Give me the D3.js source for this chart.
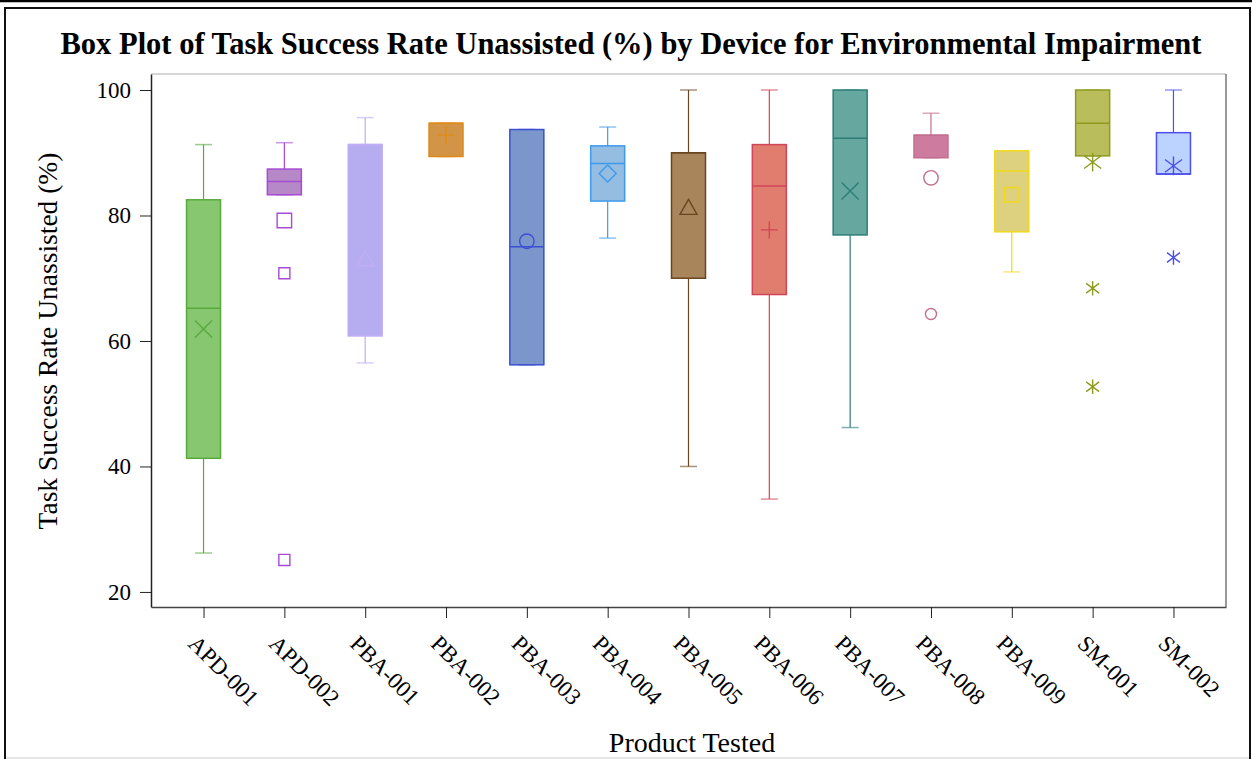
<!DOCTYPE html>
<html>
<head>
<meta charset="utf-8">
<script src="https://cdn.jsdelivr.net/npm/d3@7"></script>
<style>
  html, body { margin: 0; padding: 0; background: #fff; }
  svg text { font-family: "Liberation Serif", "Times New Roman", serif; fill: #000; }
</style>
</head>
<body>
<svg id="chart" width="1252" height="759"></svg>
<script>
const devices = ["APD-001", "APD-002", "PBA-001", "PBA-002", "PBA-003", "PBA-004", "PBA-005",
                 "PBA-006", "PBA-007", "PBA-008", "PBA-009", "SM-001", "SM-002"];
const whiskerLow  = [26.2, 83.3, 56.5, 89.4, 56.2, 76.4, 40.0, 34.8, 46.2, 89.2, 71.0, 89.5, 86.6];
const q1          = [41.3, 83.3, 60.8, 89.4, 56.2, 82.3, 70.0, 67.4, 76.9, 89.2, 77.4, 89.5, 86.6];
const medians     = [65.2, 85.4, 91.3, 94.7, 75.0, 88.3, 90.0, 84.7, 92.3, 92.8, 87.1, 94.7, 86.6];
const q3          = [82.5, 87.4, 91.3, 94.7, 93.7, 91.1, 90.0, 91.3, 100, 92.8, 90.3, 100, 93.2];
const whiskerHigh = [91.3, 91.6, 95.6, 94.7, 93.7, 94.1, 100, 100, 100, 96.3, 90.3, 100, 100];
const means       = [61.9, 79.2, 73.0, 92.8, 75.9, 86.7, 81.2, 77.7, 83.9, 86.0, 83.3, 88.5, 87.9];
const outliers    = [[], [70.8, 25.1], [], [], [], [], [], [], [], [64.3], [], [68.4, 52.7], [73.3]];
const yTicks = [20, 40, 60, 80, 100];

// fill / line colour and marker symbol per device
const fills   = ["#86c76f", "#b788c8", "#b6acf0", "#d29446", "#7b96cb", "#95bce1", "#a8855b",
                 "#e07d6f", "#66a7a0", "#ce7ba0", "#ddd07e", "#babd5b", "#bcd3ff"];
const lines   = ["#58aa3d", "#a64bd3", "#bfaef6", "#e08a18", "#3a4fd2", "#3d9aef", "#6a4620",
                 "#d24458", "#2c7f77", "#c2708f", "#f0d81a", "#8e9b1e", "#4d4fea"];
const symbols = ["x", "square", "triangle", "plus", "circle", "diamond", "triangle",
                 "plus", "x", "circle", "square", "asterisk", "asterisk"];

const svg = d3.select("#chart");
const plot = { left: 151, right: 1226, top: 74, bottom: 607 };

// outer frame
svg.append("line").attr("x1", 0).attr("x2", 1252).attr("y1", 1).attr("y2", 1)
  .attr("stroke", "#000").attr("stroke-width", 2.5);
svg.append("rect").attr("x", 5).attr("y", 8).attr("width", 1245).attr("height", 780)
  .attr("fill", "none").attr("stroke", "#111").attr("stroke-width", 2);
svg.append("line").attr("x1", 6).attr("x2", 1249).attr("y1", 758).attr("y2", 758)
  .attr("stroke", "#ddd").attr("stroke-width", 1.5);

const x = d3.scalePoint().domain(devices).range([plot.left, plot.right]).padding(0.65);
const y = d3.scaleLinear().domain([17.6, 102.55]).range([plot.bottom, plot.top]);

// plot border (top/right lighter)
svg.append("line").attr("x1", plot.left).attr("x2", plot.right).attr("y1", plot.top).attr("y2", plot.top)
  .attr("stroke", "#c8c8c8").attr("stroke-width", 1.5);
svg.append("line").attr("x1", plot.right).attr("x2", plot.right).attr("y1", plot.top).attr("y2", plot.bottom)
  .attr("stroke", "#777").attr("stroke-width", 1.5);

// axes
const yAxis = svg.append("g").attr("transform", `translate(${plot.left},0)`)
  .call(d3.axisLeft(y).tickValues(yTicks).tickSize(11).tickPadding(9).tickSizeOuter(0));
yAxis.select(".domain").attr("stroke", "#222").attr("stroke-width", 1.5);
yAxis.selectAll(".tick line").attr("stroke", "#222");
yAxis.selectAll(".tick text").style("font-size", "23px").attr("fill", "#000");

const xAxis = svg.append("g").attr("transform", `translate(0,${plot.bottom})`)
  .call(d3.axisBottom(x).tickSize(11).tickSizeOuter(0));
xAxis.select(".domain").attr("stroke", "#444").attr("stroke-width", 1.5);
xAxis.selectAll(".tick line").attr("stroke", "#222");
xAxis.selectAll(".tick text")
  .style("font-size", "23px")
  .attr("text-anchor", "start")
  .attr("x", 0).attr("y", 0).attr("dy", 0)
  .attr("transform", "translate(-17,38) rotate(45)");

// marker shapes
function marker(g, type, cx, cy, s, color) {
  const h = s / 2;
  if (type === "circle") {
    g.append("circle").attr("cx", cx).attr("cy", cy).attr("r", h * 0.85)
      .attr("fill", "none").attr("stroke", color).attr("stroke-width", 1.4);
    return;
  }
  let d;
  if (type === "x") d = `M${cx-h},${cy-h}L${cx+h},${cy+h}M${cx-h},${cy+h}L${cx+h},${cy-h}`;
  else if (type === "plus") d = `M${cx-h},${cy}L${cx+h},${cy}M${cx},${cy-h}L${cx},${cy+h}`;
  else if (type === "square") d = `M${cx-h*0.85},${cy-h*0.85}h${s*0.85}v${s*0.85}h${-s*0.85}Z`;
  else if (type === "diamond") d = `M${cx},${cy-h}L${cx+h},${cy}L${cx},${cy+h}L${cx-h},${cy}Z`;
  else if (type === "triangle") d = `M${cx},${cy-h}L${cx+h},${cy+h*0.75}L${cx-h},${cy+h*0.75}Z`;
  else if (type === "asterisk") d = `M${cx-h},${cy-h*0.75}L${cx+h},${cy+h*0.75}M${cx-h},${cy+h*0.75}L${cx+h},${cy-h*0.75}M${cx},${cy-h*1.1}L${cx},${cy+h*1.1}`;
  g.append("path").attr("d", d).attr("fill", "none").attr("stroke", color).attr("stroke-width", 1.4);
}

const boxW = 34, capW = 17;
devices.forEach((dev, i) => {
  const g = svg.append("g");
  const cx = x(dev);
  // whiskers
  g.append("line").attr("x1", cx).attr("x2", cx).attr("y1", y(whiskerHigh[i])).attr("y2", y(whiskerLow[i]))
    .attr("stroke", lines[i]).attr("stroke-width", 1.2);
  [whiskerHigh[i], whiskerLow[i]].forEach(v => {
    g.append("line").attr("x1", cx - capW / 2).attr("x2", cx + capW / 2).attr("y1", y(v)).attr("y2", y(v))
      .attr("stroke", lines[i]).attr("stroke-opacity", 0.6).attr("stroke-width", 1.5);
  });
  // box
  g.append("rect").attr("x", cx - boxW / 2).attr("y", y(q3[i]))
    .attr("width", boxW).attr("height", y(q1[i]) - y(q3[i]))
    .attr("fill", fills[i]).attr("stroke", lines[i]).attr("stroke-width", 1.5);
  // median
  g.append("line").attr("x1", cx - boxW / 2).attr("x2", cx + boxW / 2)
    .attr("y1", y(medians[i])).attr("y2", y(medians[i]))
    .attr("stroke", lines[i]).attr("stroke-width", 1.5);
  // mean
  marker(g, symbols[i], cx, y(means[i]), 17, lines[i]);
  // outliers
  outliers[i].forEach(v => marker(g, symbols[i], cx, y(v), 13, lines[i]));
});

// titles
svg.append("text").attr("x", 631).attr("y", 54).attr("text-anchor", "middle")
  .style("font-size", "30.5px").style("font-weight", "bold")
  .text("Box Plot of Task Success Rate Unassisted (%) by Device for Environmental Impairment");
svg.append("text").attr("transform", "translate(57,341) rotate(-90)").attr("text-anchor", "middle")
  .style("font-size", "27.5px")
  .text("Task Success Rate Unassisted (%)");
svg.append("text").attr("x", 692).attr("y", 752).attr("text-anchor", "middle")
  .style("font-size", "28px")
  .text("Product Tested");
</script>
</body>
</html>
